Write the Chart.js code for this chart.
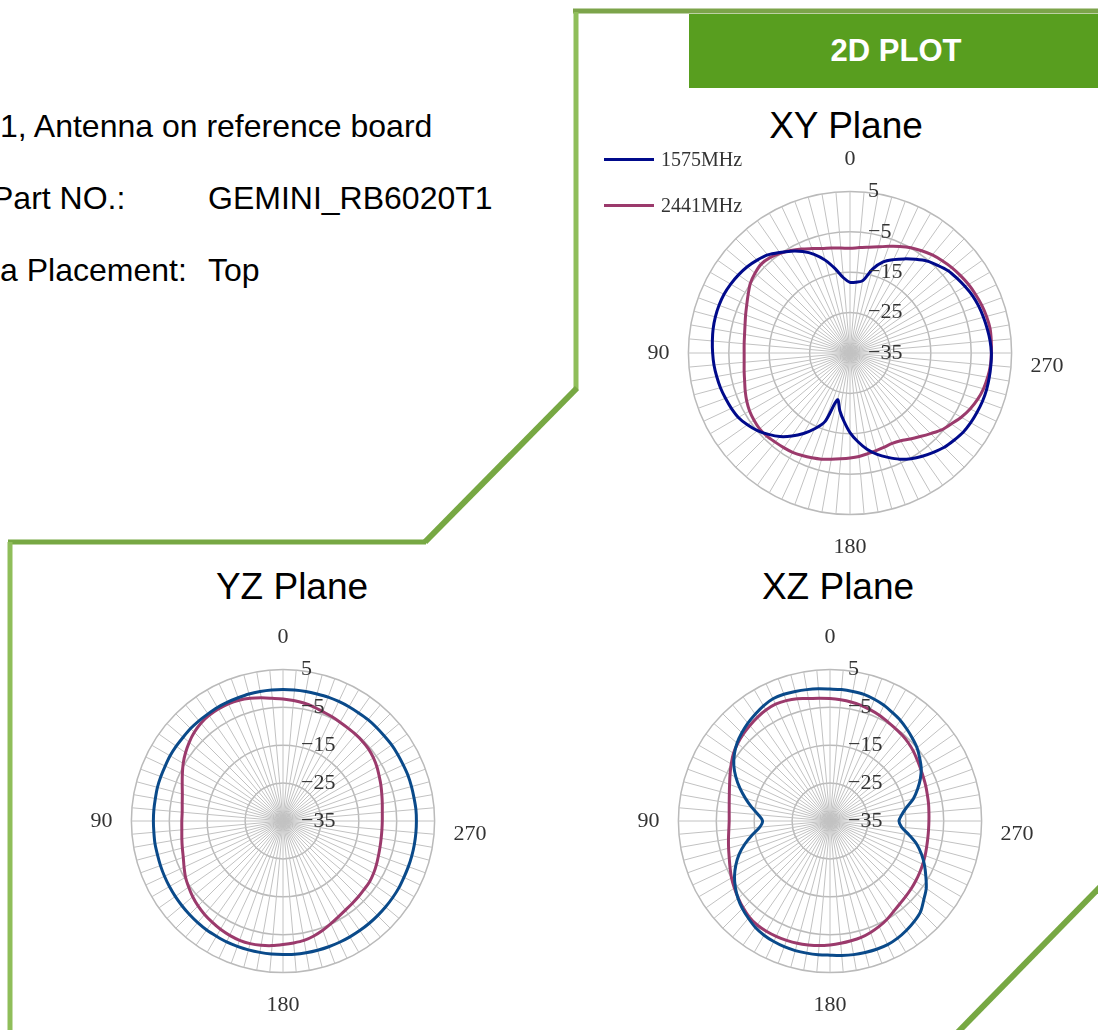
<!DOCTYPE html>
<html lang="en">
<head>
    <meta charset="UTF-8">
    <title>2D PLOT</title>
    <script src="https://cdn.jsdelivr.net/npm/chart.js"></script>
    <style>
        body {
            margin: 0;
            width: 1098px;
            height: 1030px;
            position: relative;
            overflow: hidden;
            background: white;
            font-family: "Liberation Sans", Arial, sans-serif;
        }
        .info {
            position: absolute;
            font-size: 32px;
            line-height: 32px;
            color: #000;
            white-space: nowrap;
        }
        .header {
            position: absolute;
            left: 689px;
            top: 14px;
            width: 414px;
            height: 74px;
            background: #589e1f;
            color: white;
            font-weight: bold;
            font-size: 31px;
            display: flex;
            align-items: center;
            justify-content: center;
        }
        .title {
            position: absolute;
            width: 300px;
            font-size: 37px;
            line-height: 37px;
            text-align: center;
            color: #000;
        }
        .legend {
            position: absolute;
            left: 604px;
            font-family: "Liberation Serif", serif;
            font-size: 20px;
            color: #333;
            display: flex;
            align-items: center;
            height: 24px;
        }
        .legend span.line {
            display: inline-block;
            width: 50px;
            height: 3px;
            margin-right: 7px;
        }
        canvas { position: absolute; }
        svg { position: absolute; left: 0; top: 0; }
    </style>
</head>
<body>
    <svg width="1098" height="1030">
        <line x1="573" y1="11" x2="1098" y2="11" stroke="#7ca44a" stroke-width="5"/>
        <line x1="576" y1="12" x2="576" y2="389" stroke="#8fbe5a" stroke-width="5"/>
        <line x1="577" y1="388" x2="425" y2="542" stroke="#77a843" stroke-width="6"/>
        <line x1="426" y1="542" x2="8" y2="542" stroke="#77a843" stroke-width="5"/>
        <line x1="10" y1="542" x2="10" y2="1030" stroke="#8fbe5a" stroke-width="5"/>
        <line x1="1100" y1="887" x2="958" y2="1032" stroke="#77a843" stroke-width="6"/>
    </svg>

    <div class="info" style="left: 0; top: 110px;">1, Antenna on reference board</div>
    <div class="info" style="left: -8px; top: 182px;">Part NO.:</div>
    <div class="info" style="left: 208px; top: 182px;">GEMINI_RB6020T1</div>
    <div class="info" style="left: 0; top: 254px;">a Placement:</div>
    <div class="info" style="left: 208px; top: 254px;">Top</div>

    <div class="header">2D PLOT</div>

    <div class="title" style="left: 696px; top: 107px;">XY Plane</div>
    <div class="title" style="left: 142px; top: 568px;">YZ Plane</div>
    <div class="title" style="left: 688px; top: 568px;">XZ Plane</div>

    <canvas id="xyChart" width="530" height="415" style="left: 585px; top: 146px;"></canvas>
    <canvas id="yzChart" width="510" height="395" style="left: 28px; top: 624px;"></canvas>
    <canvas id="xzChart" width="510" height="395" style="left: 575px; top: 624px;"></canvas>

    <div id="legend"></div>

    <script>
        // 角度 (0 在上, 逆时针增加)
        const angles = [0, 5, 10, 15, 20, 25, 30, 35, 40, 45, 50, 55, 60, 65, 70, 75, 80, 85,
            90, 95, 100, 105, 110, 115, 120, 125, 130, 135, 140, 145, 150, 155, 160, 165, 170, 175,
            180, 185, 190, 195, 200, 205, 210, 215, 220, 225, 230, 235, 240, 245, 250, 255, 260, 265,
            270, 275, 280, 285, 290, 295, 300, 305, 310, 315, 320, 325, 330, 335, 340, 345, 350, 355];
        const shownAngles = ['0', '90', '180', '270'];
        const seriesNames = ['1575MHz', '2441MHz'];
        const tickValues = [-35, -25, -15, -5, 5];

        // XY plane (dB)
        const xy1575 = [-17.5, -16.3, -13.8, -11.2, -9.0, -7.3, -5.9, -4.6, -3.3, -2.5,
            -1.8, -1.3, -0.9, -0.6, -0.5, -0.5, -0.6, -0.8, -1.0, -1.2,
            -1.5, -1.8, -2.2, -2.6, -3.1, -4.0, -5.1, -6.5, -8.0, -9.9,
            -12.0, -14.3, -17.0, -23.0, -20.5, -18.0, -15.3, -13.0, -10.8, -9.0,
            -7.5, -6.0, -4.8, -3.8, -2.9, -2.0, -1.4, -0.8, -0.5, -0.3,
            -0.1, 0, 0, 0, 0, -0.2, -0.5, -0.8, -1.1, -1.5,
            -2.1, -2.7, -3.3, -4.3, -5.3, -6.7, -8.1, -9.5, -11.0, -13.5,
            -16.8, -17.4];
        const xy2441 = [-9.1, -8.9, -8.6, -8.2, -7.5, -6.6, -5.7, -4.9, -4.2, -3.9,
            -4.3, -4.9, -5.9, -6.8, -7.5, -8.1, -8.5, -8.7, -8.8, -8.7,
            -8.4, -8.0, -7.4, -6.8, -6.3, -6.0, -5.8, -5.9, -6.2, -6.4,
            -6.6, -7.0, -7.4, -7.8, -8.3, -8.7, -9.0, -9.3, -9.7, -10.0,
            -10.2, -10.3, -9.9, -9.0, -8.0, -6.8, -5.4, -4.4, -3.2, -2.2,
            -1.4, -0.8, -0.4, -0.1, 0, 0.1, 0.2, 0, -0.3, -0.7,
            -1.1, -1.6, -2.1, -2.7, -3.3, -4.1, -4.9, -5.9, -6.9, -7.8,
            -8.4, -8.8];

        // YZ plane (dB)
        const yz1575 = [-0.3, -0.3, -0.3, -0.3, -0.4, -0.4, -0.4, -0.5, -0.5, -0.5,
            -0.6, -0.6, -0.6, -0.7, -0.7, -0.7, -0.8, -0.8, -0.8, -0.8,
            -0.7, -0.7, -0.6, -0.5, -0.4, -0.3, -0.2, -0.1, 0, 0.1,
            0.1, 0.2, 0.2, 0.2, 0.2, 0.2, 0.2, 0.3, 0.3, 0.3,
            0.3, 0.3, 0.3, 0.3, 0.3, 0.3, 0.3, 0.3, 0.3, 0.2,
            0.2, 0.2, 0.2, 0.2, 0.2, 0.2, 0.1, 0.1, 0.1, 0,
            0, 0, -0.1, -0.1, -0.1, -0.2, -0.2, -0.2, -0.2, -0.3,
            -0.3, -0.3];
        const yz2441 = [-2.8, -2.5, -2.0, -1.5, -1.1, -0.9, -0.9, -1.0, -1.3, -1.9,
            -2.7, -3.6, -4.6, -5.7, -6.7, -7.5, -8.0, -8.3, -8.3, -8.2,
            -7.9, -7.5, -7.0, -6.2, -5.3, -4.6, -3.9, -3.3, -2.8, -2.4,
            -2.0, -1.7, -1.5, -1.5, -1.7, -2.0, -2.4, -2.7, -3.0, -3.6,
            -4.3, -5.1, -5.8, -6.3, -6.6, -6.8, -7.0, -7.1, -7.4, -7.8,
            -8.2, -8.5, -8.7, -8.8, -8.8, -8.7, -8.4, -8.0, -7.5, -7.0,
            -6.4, -5.9, -5.5, -5.3, -5.2, -5.1, -4.9, -4.6, -4.3, -3.8,
            -3.4, -3.1];

        // XZ plane (dB)
        const xz1575 = [-0.2, 0, 0.2, 0.4, 0.6, 0.6, 0.1, -0.6, -1.3, -2.1,
            -3.0, -4.2, -5.7, -7.6, -9.7, -11.9, -14.0, -16.0, -17.2, -16.4,
            -14.2, -11.8, -9.5, -7.6, -5.9, -4.5, -3.3, -2.3, -1.5, -0.7,
            -0.2, 0.1, 0.3, 0.4, 0.4, 0.4, 0.4, 0.6, 0.8, 0.9,
            1.0, 1.0, 0.7, 0.2, -0.4, -1.2, -2.7, -4.0, -5.8, -7.5,
            -9.3, -11.3, -13.8, -16.0, -16.8, -16.0, -14.5, -12.2, -10.4, -8.7,
            -7.2, -6.1, -5.0, -4.2, -3.4, -2.6, -2.0, -1.3, -0.8, -0.4,
            -0.3, -0.2];
        const xz2441 = [-2.7, -2.5, -2.2, -1.6, -1.2, -1.0, -1.2, -1.6, -2.1, -2.6,
            -3.2, -3.9, -4.9, -5.9, -6.8, -7.5, -8.0, -8.3, -8.4, -8.2,
            -7.8, -7.3, -6.7, -5.9, -5.0, -4.2, -3.4, -2.6, -1.9, -1.5,
            -1.4, -1.4, -1.5, -1.6, -1.8, -2.0, -2.3, -2.6, -2.9, -3.2,
            -3.7, -4.3, -5.0, -5.8, -6.4, -6.8, -7.1, -7.4, -7.7, -8.0,
            -8.3, -8.6, -8.8, -8.9, -8.9, -8.8, -8.6, -8.4, -8.1, -7.8,
            -7.4, -6.9, -6.3, -5.8, -5.4, -5.1, -4.7, -4.2, -3.8, -3.4,
            -3.1, -2.9];

        // Chart.js 雷达图是顺时针, 这里反过来排
        function ccw(arr) {
            const n = arr.length;
            return arr.map((v, i) => arr[(n - i) % n]);
        }

        // 刻度标签画在轴的右边
        const tickLabelPlugin = {
            id: 'tickLabels',
            afterDatasetsDraw(chart) {
                const s = chart.scales.r;
                const ctx = chart.ctx;
                ctx.save();
                ctx.font = '22px "Liberation Serif"';
                ctx.fillStyle = '#333';
                ctx.textAlign = 'left';
                ctx.textBaseline = 'middle';
                s.ticks.forEach(t => {
                    const d = s.getDistanceFromCenterForValue(t.value);
                    ctx.fillText(String(t.value).replace('-', '\u2212'), s.xCenter + 18, s.yCenter - d);
                });
                ctx.restore();
            }
        };

        // 只显示 0/90/180/270, 270 在原图里偏下一点
        function pointLabel(l) {
            if (!shownAngles.includes(l)) return '';
            return l === '270' ? ['', l] : l;
        }

        function makeChart(id, data1575, data2441, colors) {
            const ctx = document.getElementById(id).getContext('2d');
            return new Chart(ctx, {
                type: 'radar',
                data: {
                    labels: ccw(angles.map(String)),
                    datasets: [
                        { label: seriesNames[0], data: ccw(data1575), borderColor: colors[0] },
                        { label: seriesNames[1], data: ccw(data2441), borderColor: colors[1] }
                    ]
                },
                options: {
                    responsive: false,
                    animation: false,
                    elements: {
                        line: { borderWidth: 3, tension: 0.3, fill: false },
                        point: { radius: 0, hoverRadius: 0 }
                    },
                    scales: {
                        r: {
                            min: tickValues[0],
                            max: tickValues[tickValues.length - 1],
                            ticks: { stepSize: 10, display: false },
                            grid: { circular: true, color: '#bababa', lineWidth: 1.5 },
                            angleLines: { color: '#c2c2c2', lineWidth: 1 },
                            pointLabels: {
                                callback: pointLabel,
                                font: { family: 'Liberation Serif', size: 22, lineHeight: 1.2 },
                                color: '#333',
                                padding: 19
                            }
                        }
                    },
                    plugins: {
                        legend: { display: false },
                        tooltip: { enabled: false }
                    }
                },
                plugins: [tickLabelPlugin]
            });
        }

        makeChart('xyChart', xy1575, xy2441, ['#000a8b', '#9b3a6c']);
        makeChart('yzChart', yz1575, yz2441, ['#0a4a8a', '#9b3a6c']);
        makeChart('xzChart', xz1575, xz2441, ['#0a4a8a', '#9b3a6c']);

        // 图例
        const legendColors = ['#000a8b', '#9b3a6c'];
        const legendTops = [147, 193];
        seriesNames.forEach((name, i) => {
            const row = document.createElement('div');
            row.className = 'legend';
            row.style.top = legendTops[i] + 'px';
            row.innerHTML = '<span class="line" style="background:' + legendColors[i] + '"></span>' + name;
            document.getElementById('legend').appendChild(row);
        });
    </script>
</body>
</html>
